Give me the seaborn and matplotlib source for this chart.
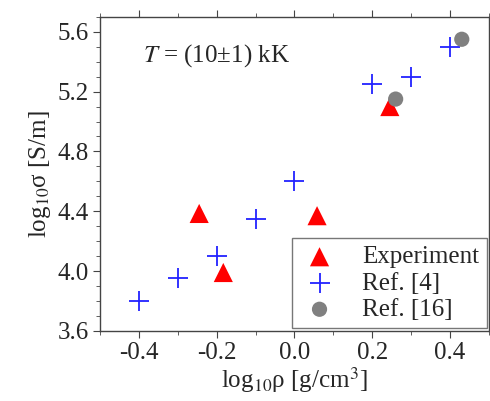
import numpy as np
import pandas as pd
import matplotlib
matplotlib.use('Agg')
import matplotlib.pyplot as plt
import seaborn as sns
from matplotlib.ticker import MultipleLocator

# data
exp_x = [-0.245, -0.183, 0.058, 0.245]
exp_y = [4.385, 3.99, 4.37, 5.10]
ref4_x = [-0.4, -0.3, -0.2, -0.1, 0.0, 0.2, 0.3, 0.4]
ref4_y = [3.80, 3.95, 4.10, 4.35, 4.60, 5.25, 5.30, 5.50]
ref16_x = [0.26, 0.43]
ref16_y = [5.15, 5.55]

sns.set_style('ticks')
plt.rcParams['font.family'] = ['Liberation Serif', 'DejaVu Serif']
plt.rcParams['mathtext.fontset'] = 'stix'

fig = plt.figure(figsize=(4.9, 4.01), dpi=100)
ax = fig.add_axes([0.204, 0.175, 0.794, 0.783])

sns.scatterplot(x=exp_x, y=exp_y, ax=ax, marker='^', s=190, color='#ff0000',
                edgecolor='none', label='Experiment', zorder=3)
sns.scatterplot(x=ref4_x, y=ref4_y, ax=ax, marker='+', s=220, color='#2222ff',
                linewidth=1.3, label='Ref. [4]', zorder=2)
sns.scatterplot(x=ref16_x, y=ref16_y, ax=ax, marker='o', s=120, color='#808080',
                edgecolor='none', label='Ref. [16]', zorder=4)

ax.set_xlim(-0.5, 0.5)
ax.set_ylim(3.6, 5.7)
ax.xaxis.set_minor_locator(MultipleLocator(0.1))
ax.yaxis.set_major_locator(MultipleLocator(0.4))
ax.yaxis.set_minor_locator(MultipleLocator(0.1))
ax.set_xticks([-0.4, -0.2, 0.0, 0.2, 0.4])
ax.set_xticklabels(['-0.4', '-0.2', '0.0', '0.2', '0.4'])

for s in ax.spines.values():
    s.set_color('#444444')
    s.set_linewidth(1.0)
ax.tick_params(which='both', direction='out', top=True, right=True,
               color='#444444', labelsize=18, pad=3)
ax.tick_params(which='major', length=5)
ax.tick_params(which='minor', length=3)

ax.set_xlabel('log$_{10}$ρ [g/cm$^3$]', fontsize=18, labelpad=1)
ax.set_ylabel('log$_{10}$σ [S/m]', fontsize=18, labelpad=3)

ax.text(-0.39, 5.40, '$T$ = (10±1) kK', fontsize=18)

leg = ax.legend(loc='lower right', fontsize=18, frameon=True, fancybox=False,
                borderaxespad=0.1, handletextpad=0.9, labelspacing=0.15,
                borderpad=0.3, handlelength=1.6)
leg.get_frame().set_edgecolor('#555555')
leg.get_frame().set_linewidth(1.0)

fig.savefig('out.png', dpi=100)
